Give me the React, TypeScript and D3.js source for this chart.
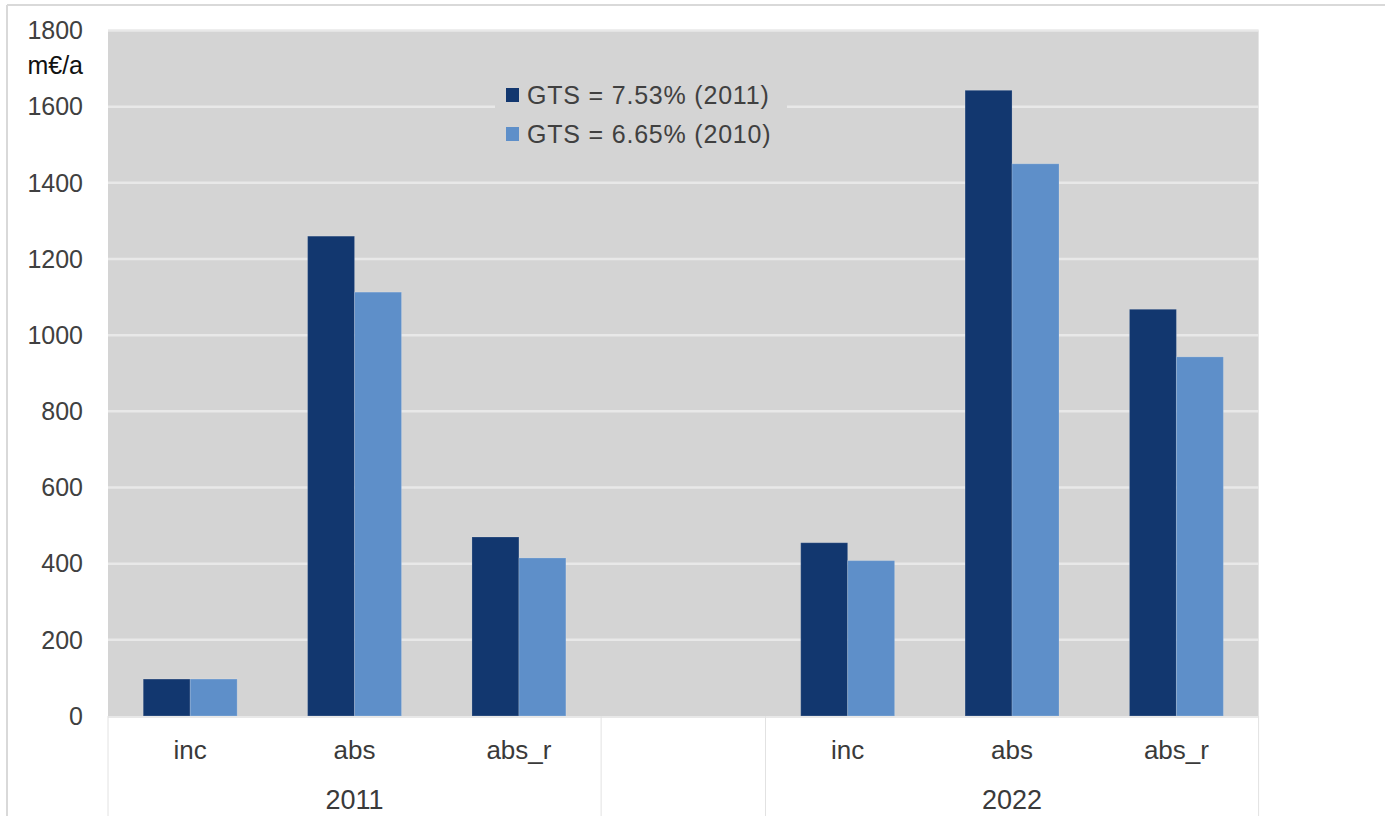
import React from "react";
import * as d3 from "d3";

// Category slots along the x axis (an empty slot separates the two years)
const slotYears = ["2011", "2011", "2011", "", "2022", "2022", "2022"];
const slotLabels = ["inc", "abs", "abs_r", "", "inc", "abs", "abs_r"];
const yearGroups = ["2011", "", "2022"];

// Series values in m€/a
const seriesNames = ["GTS = 7.53% (2011)", "GTS = 6.65% (2010)"];
const gts753: (number | null)[] = [97, 1260, 470, null, 455, 1643, 1068];
const gts665: (number | null)[] = [97, 1113, 415, null, 408, 1450, 943];
const seriesColors = ["#12376f", "#5e8fc9"];

const yTicks = [0, 200, 400, 600, 800, 1000, 1200, 1400, 1600, 1800];

const W = 1385;
const H = 816;
const plot = { left: 108, right: 1258.6, top: 30.5, bottom: 716 };
const FONT = "'Liberation Sans', Arial, sans-serif";

export default function App() {
  const slotIdx = slotLabels.map((_, i) => String(i));
  const x = d3.scaleBand<string>().domain(slotIdx).range([plot.left, plot.right]).padding(0);
  const inner = d3
    .scaleBand<string>()
    .domain(["0", "1"])
    .range([0, x.bandwidth()])
    .paddingInner(0)
    .paddingOuter(0.75);
  const y = d3.scaleLinear().domain([0, 1800]).range([plot.bottom, plot.top]);

  const series = [gts753, gts665];

  // year group extents
  const groups = yearGroups.map((yr, gi) => {
    let start = -1;
    let end = -1;
    // slots that belong to this group, in order
    let count = 0;
    for (let i = 0; i < slotYears.length; i++) {
      const gIndex = slotYears[i] === "" ? 1 : slotYears[i] === "2011" ? 0 : 2;
      if (gIndex === gi) {
        if (start < 0) start = i;
        end = i;
        count++;
      }
    }
    const x0 = x(String(start))!;
    const x1 = x(String(end))! + x.bandwidth();
    return { yr, x0, x1, count };
  });

  const boundaries = Array.from(
    new Set(groups.flatMap((g) => [g.x0, g.x1]))
  );

  return (
    <svg
      width={W}
      height={H}
      style={{ position: "absolute", left: 0, top: 0, background: "#ffffff" }}
      fontFamily={FONT}
    >
      {/* outer frame */}
      <line x1={7} y1={5} x2={W} y2={5} stroke="#d9d9d9" strokeWidth={2} />
      <line x1={7} y1={5} x2={7} y2={H} stroke="#d9d9d9" strokeWidth={2} />

      {/* plot background */}
      <rect
        x={plot.left}
        y={plot.top}
        width={plot.right - plot.left}
        height={plot.bottom - plot.top}
        fill="#d4d4d4"
      />

      {/* gridlines */}
      {yTicks.slice(1).map((t) => (
        <line
          key={t}
          x1={plot.left}
          x2={plot.right}
          y1={y(t)}
          y2={y(t)}
          stroke="#e8e8e8"
          strokeWidth={2.5}
        />
      ))}

      {/* y tick labels */}
      {yTicks.map((t) => (
        <text
          key={t}
          x={83}
          y={y(t)}
          dy="0.35em"
          textAnchor="end"
          fontSize={25}
          fill="#404040"
        >
          {t}
        </text>
      ))}
      <text x={83} y={74} textAnchor="end" fontSize={25} fill="#111111">
        m€/a
      </text>

      {/* legend */}
      <rect x={495} y={76} width={292} height={78} fill="#d4d4d4" />
      {seriesNames.map((name, i) => (
        <g key={name} transform={`translate(506, ${88 + i * 39})`}>
          <rect width={13} height={14} fill={seriesColors[i]} />
          <text
            x={21}
            y={7}
            dy="0.36em"
            fontSize={25}
            letterSpacing={0.8}
            fill="#404040"
          >
            {name}
          </text>
        </g>
      ))}

      {/* bars */}
      {series.map((vals, si) =>
        vals.map((v, i) =>
          v == null ? null : (
            <rect
              key={`${si}-${i}`}
              x={x(String(i))! + inner(String(si))!}
              y={y(v)}
              width={inner.bandwidth()}
              height={y(0) - y(v)}
              fill={seriesColors[si]}
              stroke="rgba(255,255,255,0.18)"
              strokeWidth={1}
            />
          )
        )
      )}

      {/* category axis */}
      <line
        x1={plot.left}
        x2={plot.right}
        y1={plot.bottom + 1}
        y2={plot.bottom + 1}
        stroke="#e0e0e0"
        strokeWidth={1.5}
      />
      {boundaries.map((bx) => (
        <line
          key={bx}
          x1={bx}
          x2={bx}
          y1={plot.bottom}
          y2={H}
          stroke="#e2e2e2"
          strokeWidth={1}
        />
      ))}
      {slotLabels.map((lab, i) =>
        lab ? (
          <text
            key={i}
            x={x(String(i))! + x.bandwidth() / 2}
            y={759}
            textAnchor="middle"
            fontSize={26}
            fill="#3a3a3a"
          >
            {lab}
          </text>
        ) : null
      )}
      {groups.map((g) =>
        g.yr ? (
          <text
            key={g.yr}
            x={(g.x0 + g.x1) / 2}
            y={809}
            textAnchor="middle"
            fontSize={27}
            fill="#3a3a3a"
          >
            {g.yr}
          </text>
        ) : null
      )}
    </svg>
  );
}
